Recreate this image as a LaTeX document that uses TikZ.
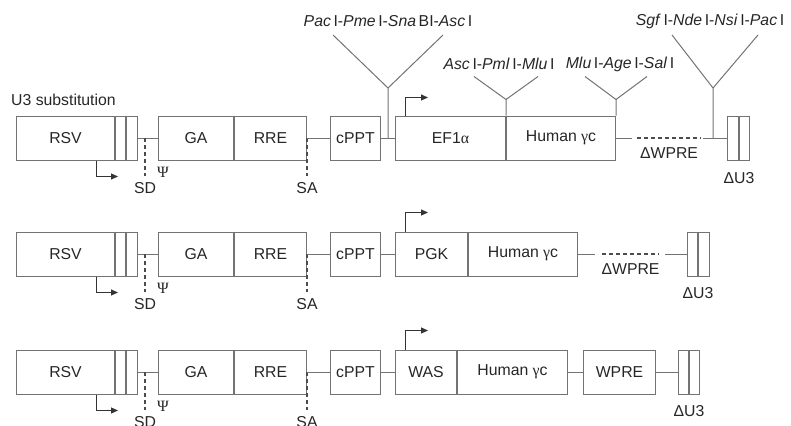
\documentclass[tikz,border=0pt]{standalone}
\usepackage{fontspec}
\setmainfont{Liberation Sans}
\newfontfamily\grk{Liberation Serif}
\usetikzlibrary{arrows.meta, calc}

\definecolor{linegray}{gray}{0.45}
\definecolor{dashgray}{gray}{0.3}

\begin{document}
\begin{tikzpicture}[
    x=1pt, y=-1pt,
    font=\fontsize{15.8}{18}\selectfont,
    seg/.style={draw=linegray, line width=1pt, minimum height=44pt, inner sep=0pt, anchor=west, text=black!85},
    link/.style={draw=linegray, line width=1pt},
    splice/.style={draw=dashgray, line width=1.8pt, dash pattern=on 4pt off 3pt},
    prom/.style={draw=black!80, line width=1pt, -{Triangle[length=7pt, width=6pt]}},
    tag/.style={text=black!85, inner sep=0pt}
]
    \useasboundingbox (0,0) rectangle (791,425);

    % Row 1: EF1a vector
    \node[tag, anchor=west] (u3sub) at (11,100) {U3 substitution};
    \node[seg, minimum width=98pt] (rsvA) at (16,138) {RSV};
    \node[seg, minimum width=10pt] (rA) at (rsvA.east) {};
    \node[seg, minimum width=11pt] (u5A) at (rA.east) {};
    \node[seg, minimum width=75pt] (gaA) at (158,138) {GA};
    \node[seg, minimum width=72pt] (rreA) at (gaA.east) {RRE};
    \node[seg, minimum width=50pt] (cpptA) at (330,138) {cPPT};
    \node[seg, minimum width=110pt] (efA) at (395,138) {EF1{\grk α}};
    \node[seg, minimum width=109pt] (gcA) at (efA.east) {Human {\grk γ}c};
    \node[seg, minimum width=11pt] (du3A) at (727,138) {};
    \node[seg, minimum width=10pt] (u5rA) at (du3A.east) {};

    \draw[link] (u5A.east) -- (gaA.west);
    \coordinate (sdA) at (145,138);
    \draw[splice] (sdA) -- ++(0,38) node[tag, below=5.5pt] (sdlA) {SD};
    \node[tag] (psiA) at (163,172) {\grk Ψ};
    \draw[splice] (rreA.east) -- ++(0,38) node[tag, below=5.5pt] (salA) {SA};
    \draw[link] (rreA.east) -- (cpptA.west);
    \draw[link] (cpptA.east) -- (efA.west);
    \draw[prom] ($(rsvA.south west)+(80,0)$) -- ++(0,16) -- ++(22,0);
    \draw[prom] ($(efA.north west)+(10,0)$) -- ++(0,-18) -- ++(23,0);

    % cloning sites
    \coordinate (siteA1) at (388,88);
    \draw[link] (siteA1 |- cpptA.east) -- (siteA1) -- +(-55,-53);
    \draw[link] (siteA1) -- +(55,-53);
    \node[tag] (enzA1) at (388,21) {\textit{Pac}\,I-\textit{Pme}\,I-\textit{Sna}\,BI-\textit{Asc}\,I};
    \draw[link] (efA.north east) -- ++(0,-16) coordinate (siteA2) -- +(-32,-23);
    \draw[link] (siteA2) -- +(32,-23);
    \node[tag] (enzA2) at (499,64) {\textit{Asc}\,I-\textit{Pml}\,I-\textit{Mlu}\,I};
    \draw[link] (gcA.north east) -- ++(0,-16) coordinate (siteA3) -- +(-31,-23);
    \draw[link] (siteA3) -- +(31,-23);
    \node[tag] (enzA3) at (620,64) {\textit{Mlu}\,I-\textit{Age}\,I-\textit{Sal}\,I};

    \draw[link] (gcA.east) -- ++(16,0);
    \draw[splice] ($(gcA.east)+(21,0)$) -- ($(du3A.west)+(-26,0)$) node[midway, tag, below=9pt] (wpreA) {ΔWPRE};
    \draw[link] ($(du3A.west)+(-24,0)$) -- (du3A.west);
    \coordinate (siteA4) at (713,88);
    \draw[link] (siteA4 |- du3A.west) -- (siteA4) -- +(-41,-53);
    \draw[link] (siteA4) -- +(45,-53);
    \node[tag] (enzA4) at (710,21) {\textit{Sgf}\,I-\textit{Nde}\,I-\textit{Nsi}\,I-\textit{Pac}\,I};
    \node[tag, below=12pt] (du3lA) at (du3A.south east) {ΔU3};

    % Row 2: PGK vector
    \node[seg, minimum width=98pt] (rsvB) at (16,254) {RSV};
    \node[seg, minimum width=10pt] (rB) at (rsvB.east) {};
    \node[seg, minimum width=11pt] (u5B) at (rB.east) {};
    \node[seg, minimum width=75pt] (gaB) at (158,254) {GA};
    \node[seg, minimum width=72pt] (rreB) at (gaB.east) {RRE};
    \node[seg, minimum width=50pt] (cpptB) at (330,254) {cPPT};
    \node[seg, minimum width=72pt] (pgkB) at (395,254) {PGK};
    \node[seg, minimum width=109pt] (gcB) at (pgkB.east) {Human {\grk γ}c};
    \node[seg, minimum width=10pt] (du3B) at (687,254) {};
    \node[seg, minimum width=11pt] (u5rB) at (du3B.east) {};

    \draw[link] (u5B.east) -- (gaB.west);
    \coordinate (sdB) at (145,254);
    \draw[splice] (sdB) -- ++(0,38) node[tag, below=5.5pt] (sdlB) {SD};
    \node[tag] (psiB) at (163,288) {\grk Ψ};
    \draw[splice] (rreB.east) -- ++(0,38) node[tag, below=5.5pt] (salB) {SA};
    \draw[link] (rreB.east) -- (cpptB.west);
    \draw[link] (cpptB.east) -- (pgkB.west);
    \draw[prom] ($(rsvB.south west)+(80,0)$) -- ++(0,16) -- ++(22,0);
    \draw[prom] ($(pgkB.north west)+(10,0)$) -- ++(0,-19) -- ++(23,0);
    \draw[link] (gcB.east) -- ++(17,0);
    \draw[splice] ($(gcB.east)+(24,0)$) -- ($(du3B.west)+(-28,0)$) node[midway, tag, below=9pt] (wpreB) {ΔWPRE};
    \draw[link] ($(du3B.west)+(-22,0)$) -- (du3B.west);
    \node[tag, below=11pt] (du3lB) at (du3B.south east) {ΔU3};

    % Row 3: WAS vector
    \node[seg, minimum width=98pt] (rsvC) at (16,372) {RSV};
    \node[seg, minimum width=10pt] (rC) at (rsvC.east) {};
    \node[seg, minimum width=11pt] (u5C) at (rC.east) {};
    \node[seg, minimum width=75pt] (gaC) at (158,372) {GA};
    \node[seg, minimum width=72pt] (rreC) at (gaC.east) {RRE};
    \node[seg, minimum width=50pt] (cpptC) at (330,372) {cPPT};
    \node[seg, minimum width=61pt] (wasC) at (395,372) {WAS};
    \node[seg, minimum width=110pt] (gcC) at (wasC.east) {Human {\grk γ}c};
    \node[seg, minimum width=72pt] (wpreC) at (583,372) {WPRE};
    \node[seg, minimum width=10pt] (du3C) at (678,372) {};
    \node[seg, minimum width=10pt] (u5rC) at (du3C.east) {};

    \draw[link] (u5C.east) -- (gaC.west);
    \coordinate (sdC) at (145,372);
    \draw[splice] (sdC) -- ++(0,38) node[tag, below=5.5pt] (sdlC) {SD};
    \node[tag] (psiC) at (163,406) {\grk Ψ};
    \draw[splice] (rreC.east) -- ++(0,38) node[tag, below=5.5pt] (salC) {SA};
    \draw[link] (rreC.east) -- (cpptC.west);
    \draw[link] (cpptC.east) -- (wasC.west);
    \draw[prom] ($(rsvC.south west)+(80,0)$) -- ++(0,16) -- ++(22,0);
    \draw[prom] ($(wasC.north west)+(10,0)$) -- ++(0,-19) -- ++(23,0);
    \draw[link] (gcC.east) -- (wpreC.west);
    \draw[link] (wpreC.east) -- (du3C.west);
    \node[tag, below=11pt] (du3lC) at (du3C.south east) {ΔU3};

\end{tikzpicture}
\end{document}
